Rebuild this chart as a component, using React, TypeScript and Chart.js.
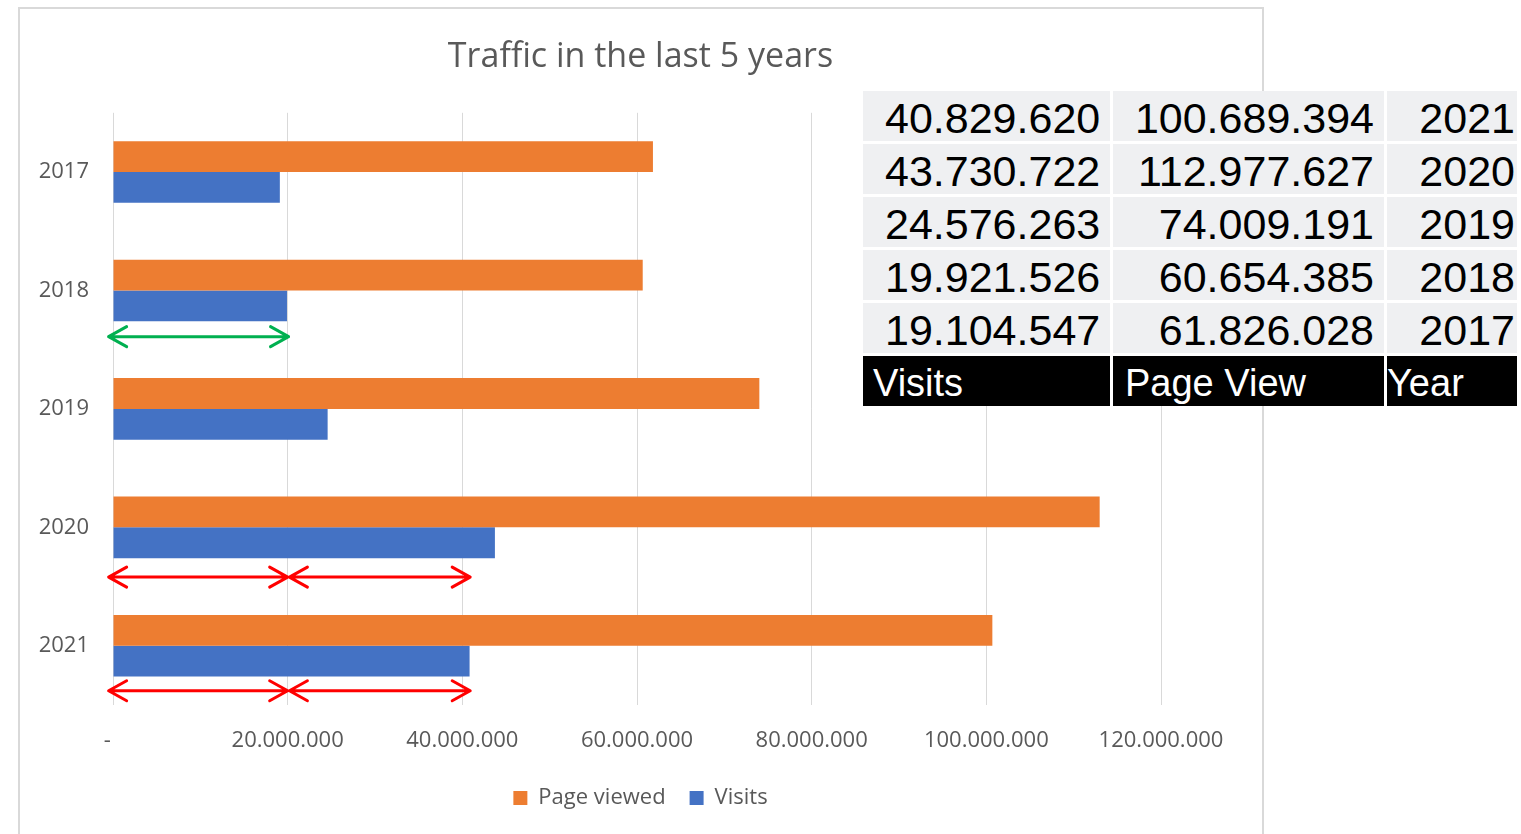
import React, { useEffect, useRef } from 'react';
import { Chart, registerables } from 'chart.js';

Chart.register(...registerables);

// ---- data ----
const years = ['2017', '2018', '2019', '2020', '2021'];
const pageViewed = [61826028, 60654385, 74009191, 112977627, 100689394];
const visits = [19104547, 19921526, 24576263, 43730722, 40829620];
const xTickLabels = ['-  ', '20.000.000', '40.000.000', '60.000.000', '80.000.000', '100.000.000', '120.000.000'];
const xMin = 0;
const xMax = 120000000;
const xStep = 20000000;
const chartTitle = 'Traffic in the last 5 years';
const seriesNames = ['Page viewed', 'Visits'];
const tableHeaders = ['Visits', 'Page View', 'Year'];

// annotation arrows (data space: category + fraction, value range)
const arrowYears = ['2018', '2020', '2020', '2021', '2021'];
const arrowOffsets = [0.39, 0.42, 0.42, 0.38, 0.38];
const arrowFrom = [-500000, -500000, 20200000, -500000, 20200000];
const arrowTo = [20100000, 20000000, 40900000, 20000000, 40900000];
const arrowColors = ['#00B050', '#FF0000', '#FF0000', '#FF0000', '#FF0000'];

const ORANGE = '#ED7D31';
const BLUE = '#4472C4';
const TEXT = '#595959';
const GRID = '#D9D9D9';
const FONT = "'Open Sans', sans-serif";

const fmt = (n: number) => n.toLocaleString('de-DE');

const arrowPlugin = {
  id: 'arrows',
  afterDatasetsDraw(chart: any) {
    const xs = chart.scales.x;
    const ys = chart.scales.y;
    const ctx = chart.ctx;
    ctx.save();
    ctx.lineWidth = 3;
    ctx.lineCap = 'round';
    ctx.lineJoin = 'round';
    for (let i = 0; i < arrowYears.length; i++) {
      const yi = years.indexOf(arrowYears[i]) + arrowOffsets[i];
      const y = ys.getPixelForValue(yi);
      const x1 = xs.getPixelForValue(arrowFrom[i]);
      const x2 = xs.getPixelForValue(arrowTo[i]);
      const hl = 18;
      const hh = 10;
      ctx.strokeStyle = arrowColors[i];
      ctx.beginPath();
      ctx.moveTo(x1, y);
      ctx.lineTo(x2, y);
      ctx.moveTo(x1 + hl, y - hh);
      ctx.lineTo(x1, y);
      ctx.lineTo(x1 + hl, y + hh);
      ctx.moveTo(x2 - hl, y - hh);
      ctx.lineTo(x2, y);
      ctx.lineTo(x2 - hl, y + hh);
      ctx.stroke();
    }
    ctx.restore();
  },
};

function BarChart() {
  const ref = useRef<HTMLCanvasElement | null>(null);
  useEffect(() => {
    if (!ref.current) return;
    const chart = new Chart(ref.current, {
      type: 'bar',
      data: {
        labels: years,
        datasets: [
          {
            label: seriesNames[0],
            data: pageViewed,
            backgroundColor: ORANGE,
            borderWidth: 0,
            yAxisID: 'y',
            xAxisID: 'x',
          },
          {
            label: seriesNames[1],
            data: visits,
            backgroundColor: BLUE,
            borderWidth: 0,
            yAxisID: 'y',
            xAxisID: 'x',
          },
        ],
      },
      options: {
        indexAxis: 'y',
        animation: false,
        responsive: false,
        maintainAspectRatio: false,
        datasets: { bar: { categoryPercentage: 0.52, barPercentage: 1 } },
        layout: { padding: { left: 0, right: 0, top: 0, bottom: 15 } },
        scales: {
          y: {
            type: 'category',
            position: 'left',
            grid: { display: false, drawTicks: false },
            border: { display: false },
            ticks: { color: TEXT, font: { family: FONT, size: 22 }, padding: 24 },
            afterFit: (s: any) => {
              s.width = 94;
            },
          },
          x: {
            type: 'linear',
            position: 'bottom',
            min: xMin,
            max: xMax,
            grid: { color: GRID, lineWidth: 1, drawTicks: false },
            border: { display: false },
            ticks: {
              stepSize: xStep,
              color: TEXT,
              font: { family: FONT, size: 22 },
              padding: 23,
              maxRotation: 0,
              autoSkip: false,
              callback: (_v: any, i: number) => xTickLabels[i],
            },
            afterFit: (s: any) => {
              s.height = 58;
            },
          },
          yPad: {
            type: 'category',
            axis: 'y',
            position: 'right',
            display: true,
            grid: { display: false, drawTicks: false },
            border: { display: false },
            ticks: { display: false },
            afterFit: (s: any) => {
              s.width = 101;
            },
          },
        } as any,
        plugins: {
          title: {
            display: true,
            text: chartTitle,
            color: TEXT,
            font: { family: FONT, size: 34, weight: 'normal' as any },
            padding: { top: 29, bottom: 35 },
          },
          legend: {
            display: true,
            position: 'bottom',
            labels: {
              color: TEXT,
              font: { family: FONT, size: 22 },
              boxWidth: 14,
              boxHeight: 14,
              padding: 24,
            },
          },
          tooltip: { enabled: false },
        },
      },
      plugins: [arrowPlugin],
    });
    return () => chart.destroy();
  }, []);
  return <canvas ref={ref} width={1243} height={826} style={{ width: 1243, height: 826, display: 'block' }} />;
}

function DataTable() {
  const rows = years
    .map((y, i) => ({ y, v: visits[i], p: pageViewed[i] }))
    .reverse();
  const cellBase: React.CSSProperties = {
    background: '#EFF0F2',
    color: '#000',
    fontFamily: "'Liberation Sans', Arial, sans-serif",
    fontSize: 43,
    height: 50,
    lineHeight: '54px',
    whiteSpace: 'nowrap',
    overflow: 'hidden',
    boxSizing: 'border-box',
  };
  const head: React.CSSProperties = {
    ...cellBase,
    background: '#000',
    color: '#fff',
    fontSize: 38,
  };
  return (
    <div
      style={{
        position: 'absolute',
        left: 863,
        top: 91,
        display: 'grid',
        gridTemplateColumns: '247px 271px 130px',
        columnGap: 3,
        rowGap: 3,
        background: '#fff',
      }}
    >
      {rows.map((r) => (
        <React.Fragment key={r.y}>
          <div style={{ ...cellBase, textAlign: 'left', paddingLeft: 22 }}>{fmt(r.v)}</div>
          <div style={{ ...cellBase, textAlign: 'right', paddingRight: 10 }}>{fmt(r.p)}</div>
          <div style={{ ...cellBase, textAlign: 'right', paddingRight: 2 }}>{r.y}</div>
        </React.Fragment>
      ))}
      <div style={{ ...head, paddingLeft: 10 }}>{tableHeaders[0]}</div>
      <div style={{ ...head, paddingLeft: 12 }}>{tableHeaders[1]}</div>
      <div style={{ ...head, paddingLeft: 0 }}>{tableHeaders[2]}</div>
    </div>
  );
}

export default function App() {
  return (
    <div
      style={{
        position: 'absolute',
        left: 0,
        top: 0,
        width: 1521,
        height: 834,
        overflow: 'hidden',
        background: '#fff',
      }}
    >
      <div
        style={{
          position: 'absolute',
          left: 18,
          top: 7,
          width: 1246,
          height: 860,
          border: '2px solid #D9D9D9',
          boxSizing: 'border-box',
        }}
      />
      <div style={{ position: 'absolute', left: 19, top: 8 }}>
        <BarChart />
      </div>
      <DataTable />
    </div>
  );
}
